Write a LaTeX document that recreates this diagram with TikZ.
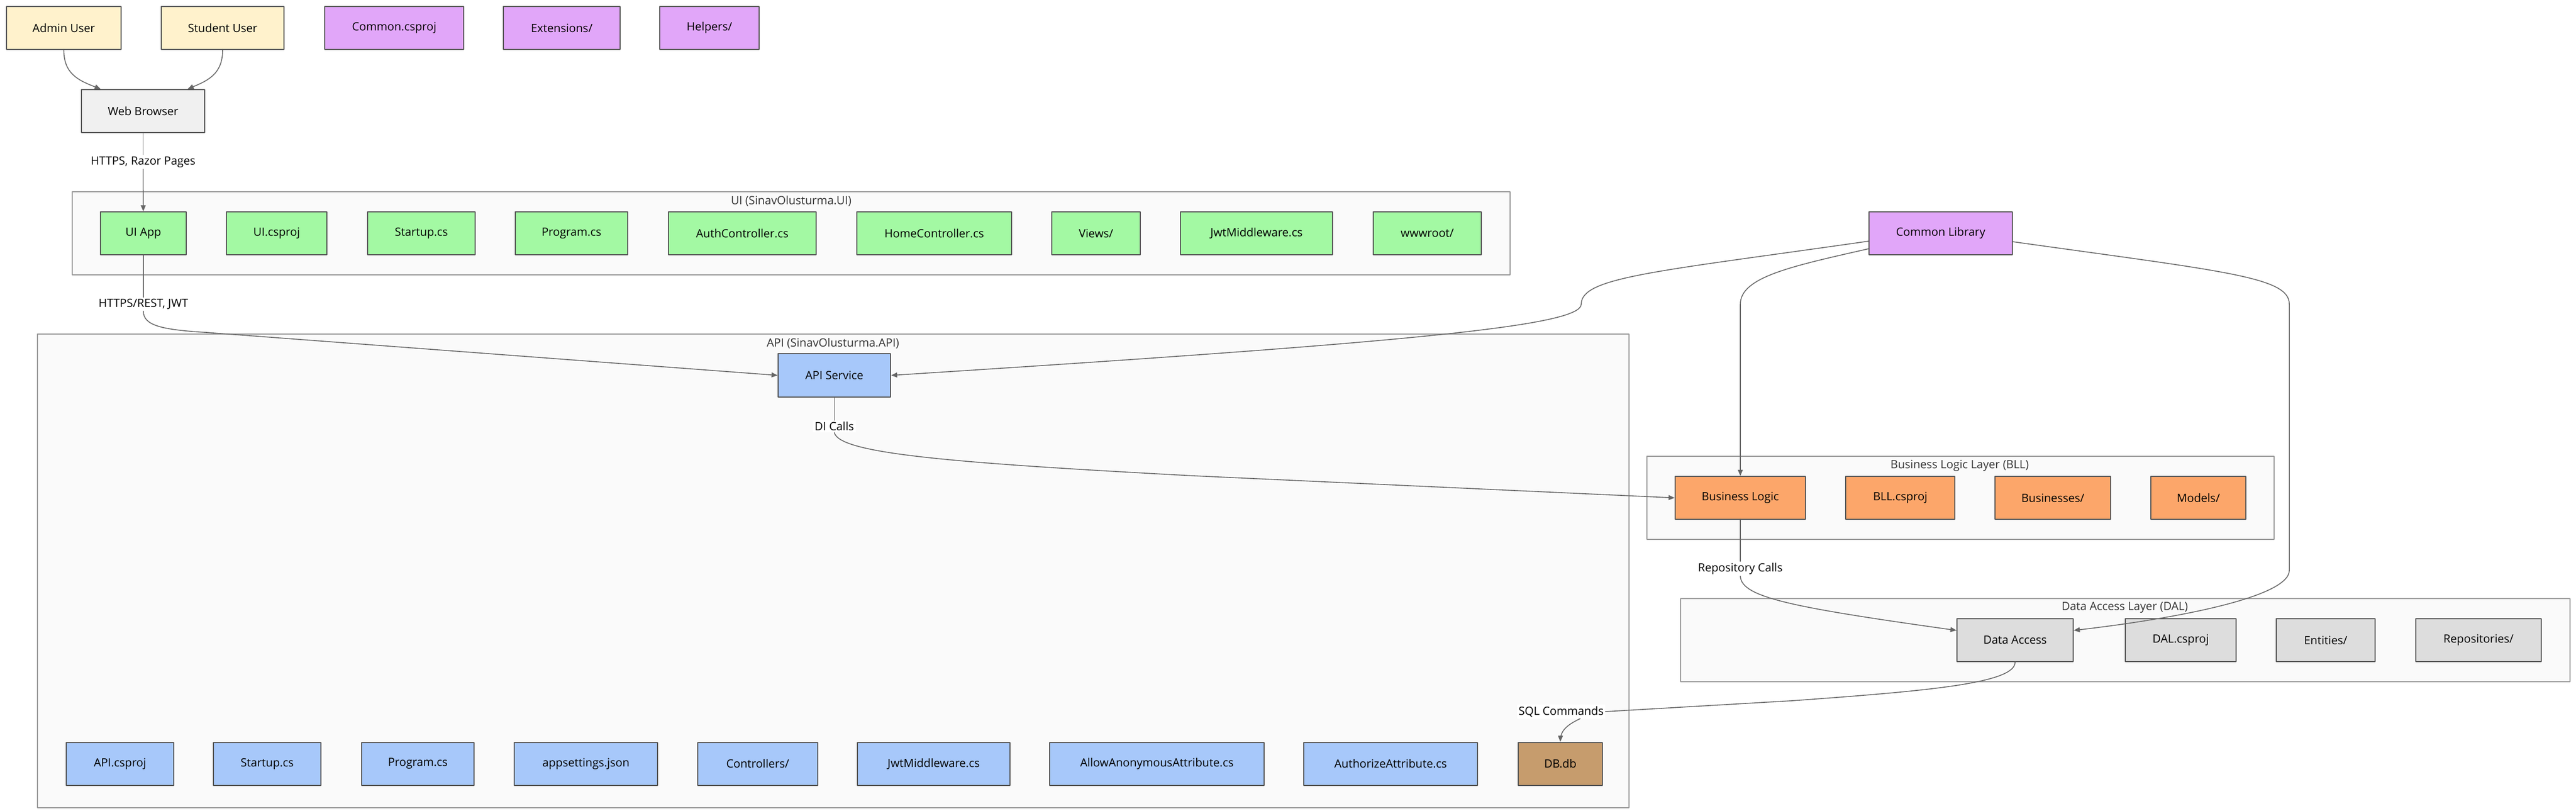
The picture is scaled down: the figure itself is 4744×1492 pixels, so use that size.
\documentclass[tikz,border=0pt]{standalone}
\usepackage{fontspec}
\setmainfont{Open Sans}
\usetikzlibrary{arrows}
\definecolor{userfill}{HTML}{FFF2CC}
\definecolor{browserfill}{HTML}{F0F0F0}
\definecolor{commonfill}{HTML}{E1A6F9}
\definecolor{uifill}{HTML}{A3F9A3}
\definecolor{apifill}{HTML}{A7C8FA}
\definecolor{bllfill}{HTML}{FCA66A}
\definecolor{dalfill}{HTML}{DDDDDD}
\definecolor{dbfill}{HTML}{C69C6D}
\definecolor{boxline}{HTML}{555555}
\definecolor{layerfill}{HTML}{FAFAFA}
\definecolor{layerline}{HTML}{999999}
\definecolor{linkgray}{HTML}{666666}
\definecolor{titlegray}{HTML}{333333}
\newcommand{\labelfont}{\fontsize{21}{25}\selectfont}
\begin{document}
\begin{tikzpicture}[line cap=round,line join=round,>=triangle 45,x=1pt,y=-1pt,
	box/.style={draw=boxline,line width=2pt,minimum height=79pt,inner sep=0pt,font=\labelfont},
	user/.style={box,fill=userfill},
	browser/.style={box,fill=browserfill},
	common/.style={box,fill=commonfill},
	uibox/.style={box,fill=uifill},
	apibox/.style={box,fill=apifill},
	bllbox/.style={box,fill=bllfill},
	dalbox/.style={box,fill=dalfill},
	dbbox/.style={box,fill=dbfill},
	layer/.style={draw=layerline,fill=layerfill,line width=2pt},
	layertitle/.style={text=titlegray,inner sep=1pt,font=\labelfont},
	edgelabel/.style={fill=white,inner sep=3pt,font=\labelfont},
	plain/.style={draw=linkgray,line width=1.6pt},
	link/.style={plain,->}]
			\useasboundingbox (0,0) rectangle (4744,1492);
			% layers
			\draw [layer] (133,353) rectangle (2781,506);
			\draw [layer] (69,615) rectangle (3000,1487);
			\draw [layer] (3033,840) rectangle (4188,993);
			\draw [layer] (3095,1102) rectangle (4733,1255);
			\node[layertitle] (uititle) at (1457,370) {UI (SinavOlusturma.UI)};
			\node[layertitle] (apititle) at (1534,632) {API (SinavOlusturma.API)};
			\node[layertitle] (blltitle) at (3609,857) {Business Logic Layer (BLL)};
			\node[layertitle] (daltitle) at (3913,1118) {Data Access Layer (DAL)};
			% top row
			\node[user,minimum width=211pt] (admin) at (117.5,51.5) {Admin User};
			\node[user,minimum width=226pt] (student) at (410,51.5) {Student User};
			\node[common,minimum width=256pt] (commoncsproj) at (726,51.5) {Common.csproj};
			\node[common,minimum width=215pt] (extensions) at (1034.5,51.5) {Extensions/};
			\node[common,minimum width=183pt] (helpers) at (1306.5,51.5) {Helpers/};
			\node[browser,minimum width=227pt] (webbrowser) at (263.5,204.5) {Web Browser};
			% UI
			\node[uibox,minimum width=158pt] (uiapp) at (264,429.5) {UI App};
			\node[uibox,minimum width=185pt] (uicsproj) at (509.5,429.5) {UI.csproj};
			\node[uibox,minimum width=198pt] (uistartup) at (776,429.5) {Startup.cs};
			\node[uibox,minimum width=207pt] (uiprogram) at (1052.5,429.5) {Program.cs};
			\node[uibox,minimum width=272pt] (authctrl) at (1367,429.5) {AuthController.cs};
			\node[uibox,minimum width=285pt] (homectrl) at (1720.5,429.5) {HomeController.cs};
			\node[uibox,minimum width=163pt] (views) at (2018.5,429.5) {Views/};
			\node[uibox,minimum width=280pt] (uijwt) at (2314,429.5) {JwtMiddleware.cs};
			\node[uibox,minimum width=199pt] (wwwroot) at (2628.5,429.5) {wwwroot/};
			% API
			\node[apibox,minimum width=207pt,minimum height=80pt] (apiservice) at (1536.5,691) {API Service};
			\node[apibox,minimum width=198pt] (apicsproj) at (221,1406) {API.csproj};
			\node[apibox,minimum width=198pt] (apistartup) at (492,1406) {Startup.cs};
			\node[apibox,minimum width=207pt] (apiprogram) at (769.5,1406) {Program.cs};
			\node[apibox,minimum width=264pt] (appsettings) at (1079,1406) {appsettings.json};
			\node[apibox,minimum width=221pt] (controllers) at (1395.5,1406) {Controllers/};
			\node[apibox,minimum width=281pt] (apijwt) at (1719.5,1406) {JwtMiddleware.cs};
			\node[apibox,minimum width=395pt] (allowanon) at (2130.5,1406) {AllowAnonymousAttribute.cs};
			\node[apibox,minimum width=320pt] (authorize) at (2561,1406) {AuthorizeAttribute.cs};
			\node[dbbox,minimum width=155pt] (db) at (2873.5,1406) {DB.db};
			% common, BLL, DAL
			\node[common,minimum width=264pt] (commonlib) at (3574,429) {Common Library};
			\node[bllbox,minimum width=240pt] (bizlogic) at (3205,916.5) {Business Logic};
			\node[bllbox,minimum width=201pt] (bllcsproj) at (3499.5,916.5) {BLL.csproj};
			\node[bllbox,minimum width=213pt] (businesses) at (3780.5,916.5) {Businesses/};
			\node[bllbox,minimum width=175pt] (models) at (4048.5,916.5) {Models/};
			\node[dalbox,minimum width=214pt] (dataaccess) at (3711,1178.5) {Data Access};
			\node[dalbox,minimum width=204pt] (dalcsproj) at (4016,1178.5) {DAL.csproj};
			\node[dalbox,minimum width=182pt] (entities) at (4283,1178.5) {Entities/};
			\node[dalbox,minimum width=231pt] (repositories) at (4564.5,1178.5) {Repositories/};
			% edge labels
			\node[edgelabel] (razorlbl) at (263.5,298) {HTTPS, Razor Pages};
			\node[edgelabel] (restlbl) at (264,560) {HTTPS/REST, JWT};
			\node[edgelabel] (dilbl) at (1536.5,785) {DI Calls};
			\node[edgelabel] (repolbl) at (3205,1047) {Repository Calls};
			\node[edgelabel] (sqllbl) at (2875,1310) {SQL Commands};
			% connectors
			\draw [link] (admin.south) .. controls (117.5,140) and (150,150) .. ([xshift=-78pt]webbrowser.north);
			\draw [link] (student.south) .. controls (410,140) and (378,150) .. ([xshift=82pt]webbrowser.north);
			\draw [plain] (webbrowser) -- (razorlbl);
			\draw [link] (razorlbl) -- (uiapp);
			\draw [plain] (uiapp) -- (restlbl);
			\draw [link] (restlbl.south) .. controls (264,600) and (300,607) .. (380,612) -- (apiservice.west);
			\draw [plain] (apiservice) -- (dilbl);
			\draw [link] (dilbl.south) .. controls (1545,835) and (1750,852) .. (2200,876) -- (bizlogic.west);
			\draw [plain] (bizlogic) -- (repolbl);
			\draw [link] (repolbl.south) .. controls (3207,1100) and (3300,1118) .. ([yshift=18pt]dataaccess.west);
			\draw [plain] (dataaccess.south) .. controls (3711,1258) and (3550,1272) .. (3300,1290) -- (sqllbl.east);
			\draw [link] ([xshift=35pt]sqllbl.south) .. controls (2885,1335) and (2874,1345) .. (db.north);
			\draw [link] ([yshift=-15pt]commonlib.west) .. controls (3050,500) and (2912,510) .. (2912,560) .. controls (2912,600) and (2600,630) .. (apiservice.east);
			\draw [link] ([yshift=-29pt]commonlib.west) .. controls (3300,490) and (3205,510) .. (3205,560) -- (bizlogic.north);
			\draw [link] ([yshift=-16pt]commonlib.east) .. controls (4100,500) and (4216,510) .. (4216,560) -- (4216,1050) .. controls (4216,1100) and (4000,1140) .. ([yshift=18pt]dataaccess.east);
		\end{tikzpicture}
\end{document}
